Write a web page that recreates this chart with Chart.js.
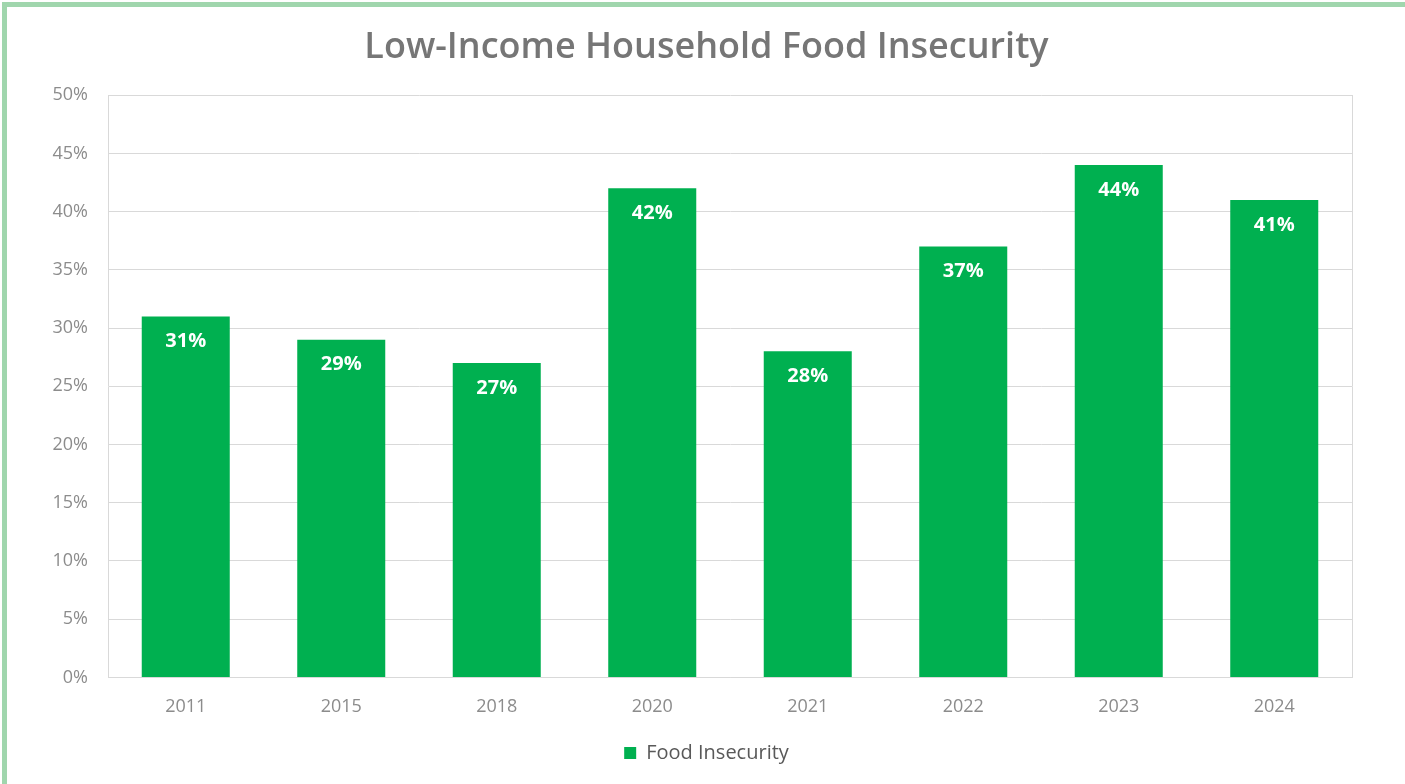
<!DOCTYPE html>
<html>
<head>
<meta charset="utf-8">
<script src="https://cdn.jsdelivr.net/npm/chart.js@4/dist/chart.umd.min.js"></script>
<style>
  html, body { margin: 0; padding: 0; background: #fff; overflow: hidden; }
  #frame {
    position: absolute; left: 2px; top: 2px;
    width: 1410px; height: 800px;
    border: 5px solid #a0d6ad;
  }
  #chartBox { position: absolute; left: 0; top: 0; width: 1405px; height: 784px; }
</style>
</head>
<body>
<div id="frame"></div>
<div id="chartBox"><canvas id="foodChart" width="1405" height="784"></canvas></div>
<script>
const years = ['2011', '2015', '2018', '2020', '2021', '2022', '2023', '2024'];
const insecurity = [31, 29, 27, 42, 28, 37, 44, 41];
const seriesName = 'Food Insecurity';
const chartTitle = 'Low-Income Household Food Insecurity';

const barColor = '#00b050';
const fontFamily = '"Open Sans", Lato, sans-serif';

// draws the white % label near the top of each bar
const barLabels = {
    id: 'barLabels',
    afterDatasetsDraw(chart) {
        const ctx = chart.ctx;
        const meta = chart.getDatasetMeta(0);
        ctx.save();
        ctx.fillStyle = '#ffffff';
        ctx.font = 'bold 20px ' + fontFamily;
        ctx.textAlign = 'center';
        ctx.textBaseline = 'middle';
        meta.data.forEach((bar, i) => {
            ctx.fillText(insecurity[i] + '%', bar.x, bar.y + 25);
        });
        ctx.restore();
    }
};

const ctx = document.getElementById('foodChart').getContext('2d');
new Chart(ctx, {
    type: 'bar',
    data: {
        labels: years,
        datasets: [{
            label: seriesName,
            data: insecurity,
            backgroundColor: barColor,
            borderWidth: 0,
            categoryPercentage: 1,
            barPercentage: 0.566
        }]
    },
    options: {
        responsive: false,
        animation: false,
        layout: { padding: { left: 8, right: 0, top: 4, bottom: 11 } },
        plugins: {
            title: {
                display: true,
                text: chartTitle,
                color: '#767676',
                font: { family: fontFamily, size: 36, weight: '600' },
                padding: { top: 22, bottom: 26 }
            },
            legend: {
                display: true,
                position: 'bottom',
                labels: {
                    color: '#595959',
                    font: { family: fontFamily, size: 20 },
                    boxWidth: 12,
                    boxHeight: 12,
                    padding: 6
                }
            },
            tooltip: { enabled: false }
        },
        scales: {
            x: {
                grid: { display: false, drawTicks: false },
                border: { display: true, color: '#d9d9d9', width: 1 },
                ticks: {
                    color: '#8c8c8c',
                    font: { family: fontFamily, size: 18 },
                    padding: 19
                }
            },
            y: {
                min: 0,
                max: 50,
                position: 'left',
                afterFit: scale => { scale.width = 100; },
                grid: { color: '#d9d9d9', drawTicks: false },
                border: { display: true, color: '#d9d9d9', width: 1 },
                ticks: {
                    stepSize: 5,
                    color: '#8c8c8c',
                    font: { family: fontFamily, size: 18 },
                    padding: 20,
                    callback: v => v + '%'
                }
            },
            yRight: {
                position: 'right',
                min: 0,
                max: 50,
                afterFit: scale => { scale.width = 53; },
                grid: { display: false, drawTicks: false },
                border: { display: true, color: '#d9d9d9', width: 1 },
                ticks: { display: false }
            }
        }
    },
    plugins: [barLabels]
});
</script>
</body>
</html>
